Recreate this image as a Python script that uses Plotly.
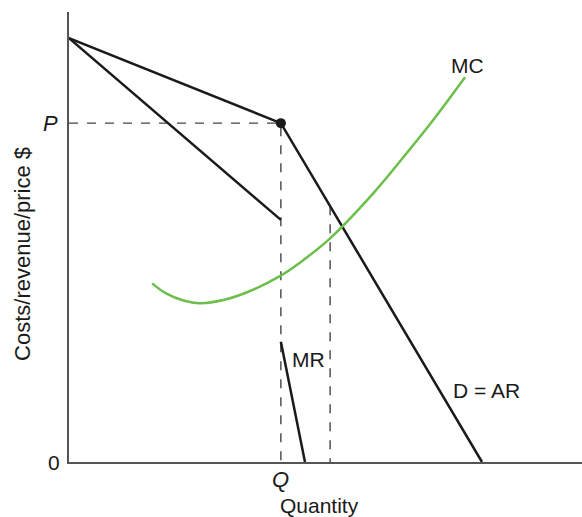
import plotly.graph_objects as go

# kinked demand (D = AR)
demand_x = [0, 4.13, 8.05]
demand_y = [9.42, 7.53, 0]

# MR: upper segment and lower segment (gap at Q)
mr_upper_x = [0, 4.13]
mr_upper_y = [9.42, 5.38]
mr_lower_x = [4.13, 4.60]
mr_lower_y = [2.67, 0]

# marginal cost curve
mc_x = [1.62, 1.90, 2.23, 2.55, 3.01, 3.53, 4.11, 4.50, 5.09, 5.93, 6.58, 7.10, 7.72]
mc_y = [3.97, 3.74, 3.59, 3.53, 3.60, 3.80, 4.13, 4.43, 4.97, 5.97, 6.86, 7.60, 8.55]

# kink point and second quantity marker
kink_x, kink_y = 4.13, 7.53
q2_x = 5.09

BLACK = "#1a1a1a"
GREEN = "#6cbf4a"
DASH = "#444444"
FONT = "Liberation Sans, Arial, sans-serif"

fig = go.Figure()

# dashed guide lines
fig.add_trace(go.Scatter(x=[0, kink_x, kink_x], y=[kink_y, kink_y, 0], mode="lines",
                         line=dict(color=DASH, width=1.4, dash="dash")))
q2_y = kink_y + (demand_y[2] - kink_y) * (q2_x - kink_x) / (demand_x[2] - kink_x)
fig.add_trace(go.Scatter(x=[q2_x, q2_x], y=[q2_y, 0], mode="lines",
                         line=dict(color=DASH, width=1.4, dash="dash")))

fig.add_trace(go.Scatter(x=demand_x, y=demand_y, mode="lines",
                         line=dict(color=BLACK, width=2.5)))
fig.add_trace(go.Scatter(x=mr_upper_x, y=mr_upper_y, mode="lines",
                         line=dict(color=BLACK, width=2.5)))
fig.add_trace(go.Scatter(x=mr_lower_x, y=mr_lower_y, mode="lines",
                         line=dict(color=BLACK, width=2.5)))
fig.add_trace(go.Scatter(x=mc_x, y=mc_y, mode="lines",
                         line=dict(color=GREEN, width=2.5, shape="spline", smoothing=1.0)))
fig.add_trace(go.Scatter(x=[kink_x], y=[kink_y], mode="markers",
                         marker=dict(color=BLACK, size=10)))


def label(x, y, text, size=21, **kw):
    kw.setdefault("xanchor", "center")
    kw.setdefault("yanchor", "middle")
    return dict(x=x, y=y, text=text, showarrow=False,
                font=dict(size=size, color=BLACK, family=FONT), **kw)


annotations = [
    label(7.76, 8.82, "MC"),
    label(4.30, 2.27, "MR", xanchor="left"),
    label(7.45, 1.6, "D = AR", xanchor="left"),
    label(0, kink_y, "<i>P</i>", size=22, xanchor="right", xshift=-9),
    label(0, 0, "0", xanchor="right", xshift=-7),
    label(kink_x, 0, "<i>Q</i>", size=22, yshift=-17),
    label(4.89, -0.096, "Quantity", yref="paper"),
    label(-0.092, 0.462, "Costs/revenue/price $", size=22, xref="paper", yref="paper",
          textangle=-90),
]

fig.update_layout(
    width=582, height=517,
    margin=dict(l=69, r=0, t=12, b=55),
    paper_bgcolor="white", plot_bgcolor="white",
    showlegend=False,
    annotations=annotations,
    xaxis=dict(range=[0, 10], showgrid=False, zeroline=False, showticklabels=False,
               showline=True, linecolor="#555555", linewidth=1.5),
    yaxis=dict(range=[0, 10], showgrid=False, zeroline=False, showticklabels=False,
               showline=True, linecolor="#555555", linewidth=1.5),
)

fig.write_html("out.html", config={"displayModeBar": False},
               post_script="document.body.style.margin='0';")
